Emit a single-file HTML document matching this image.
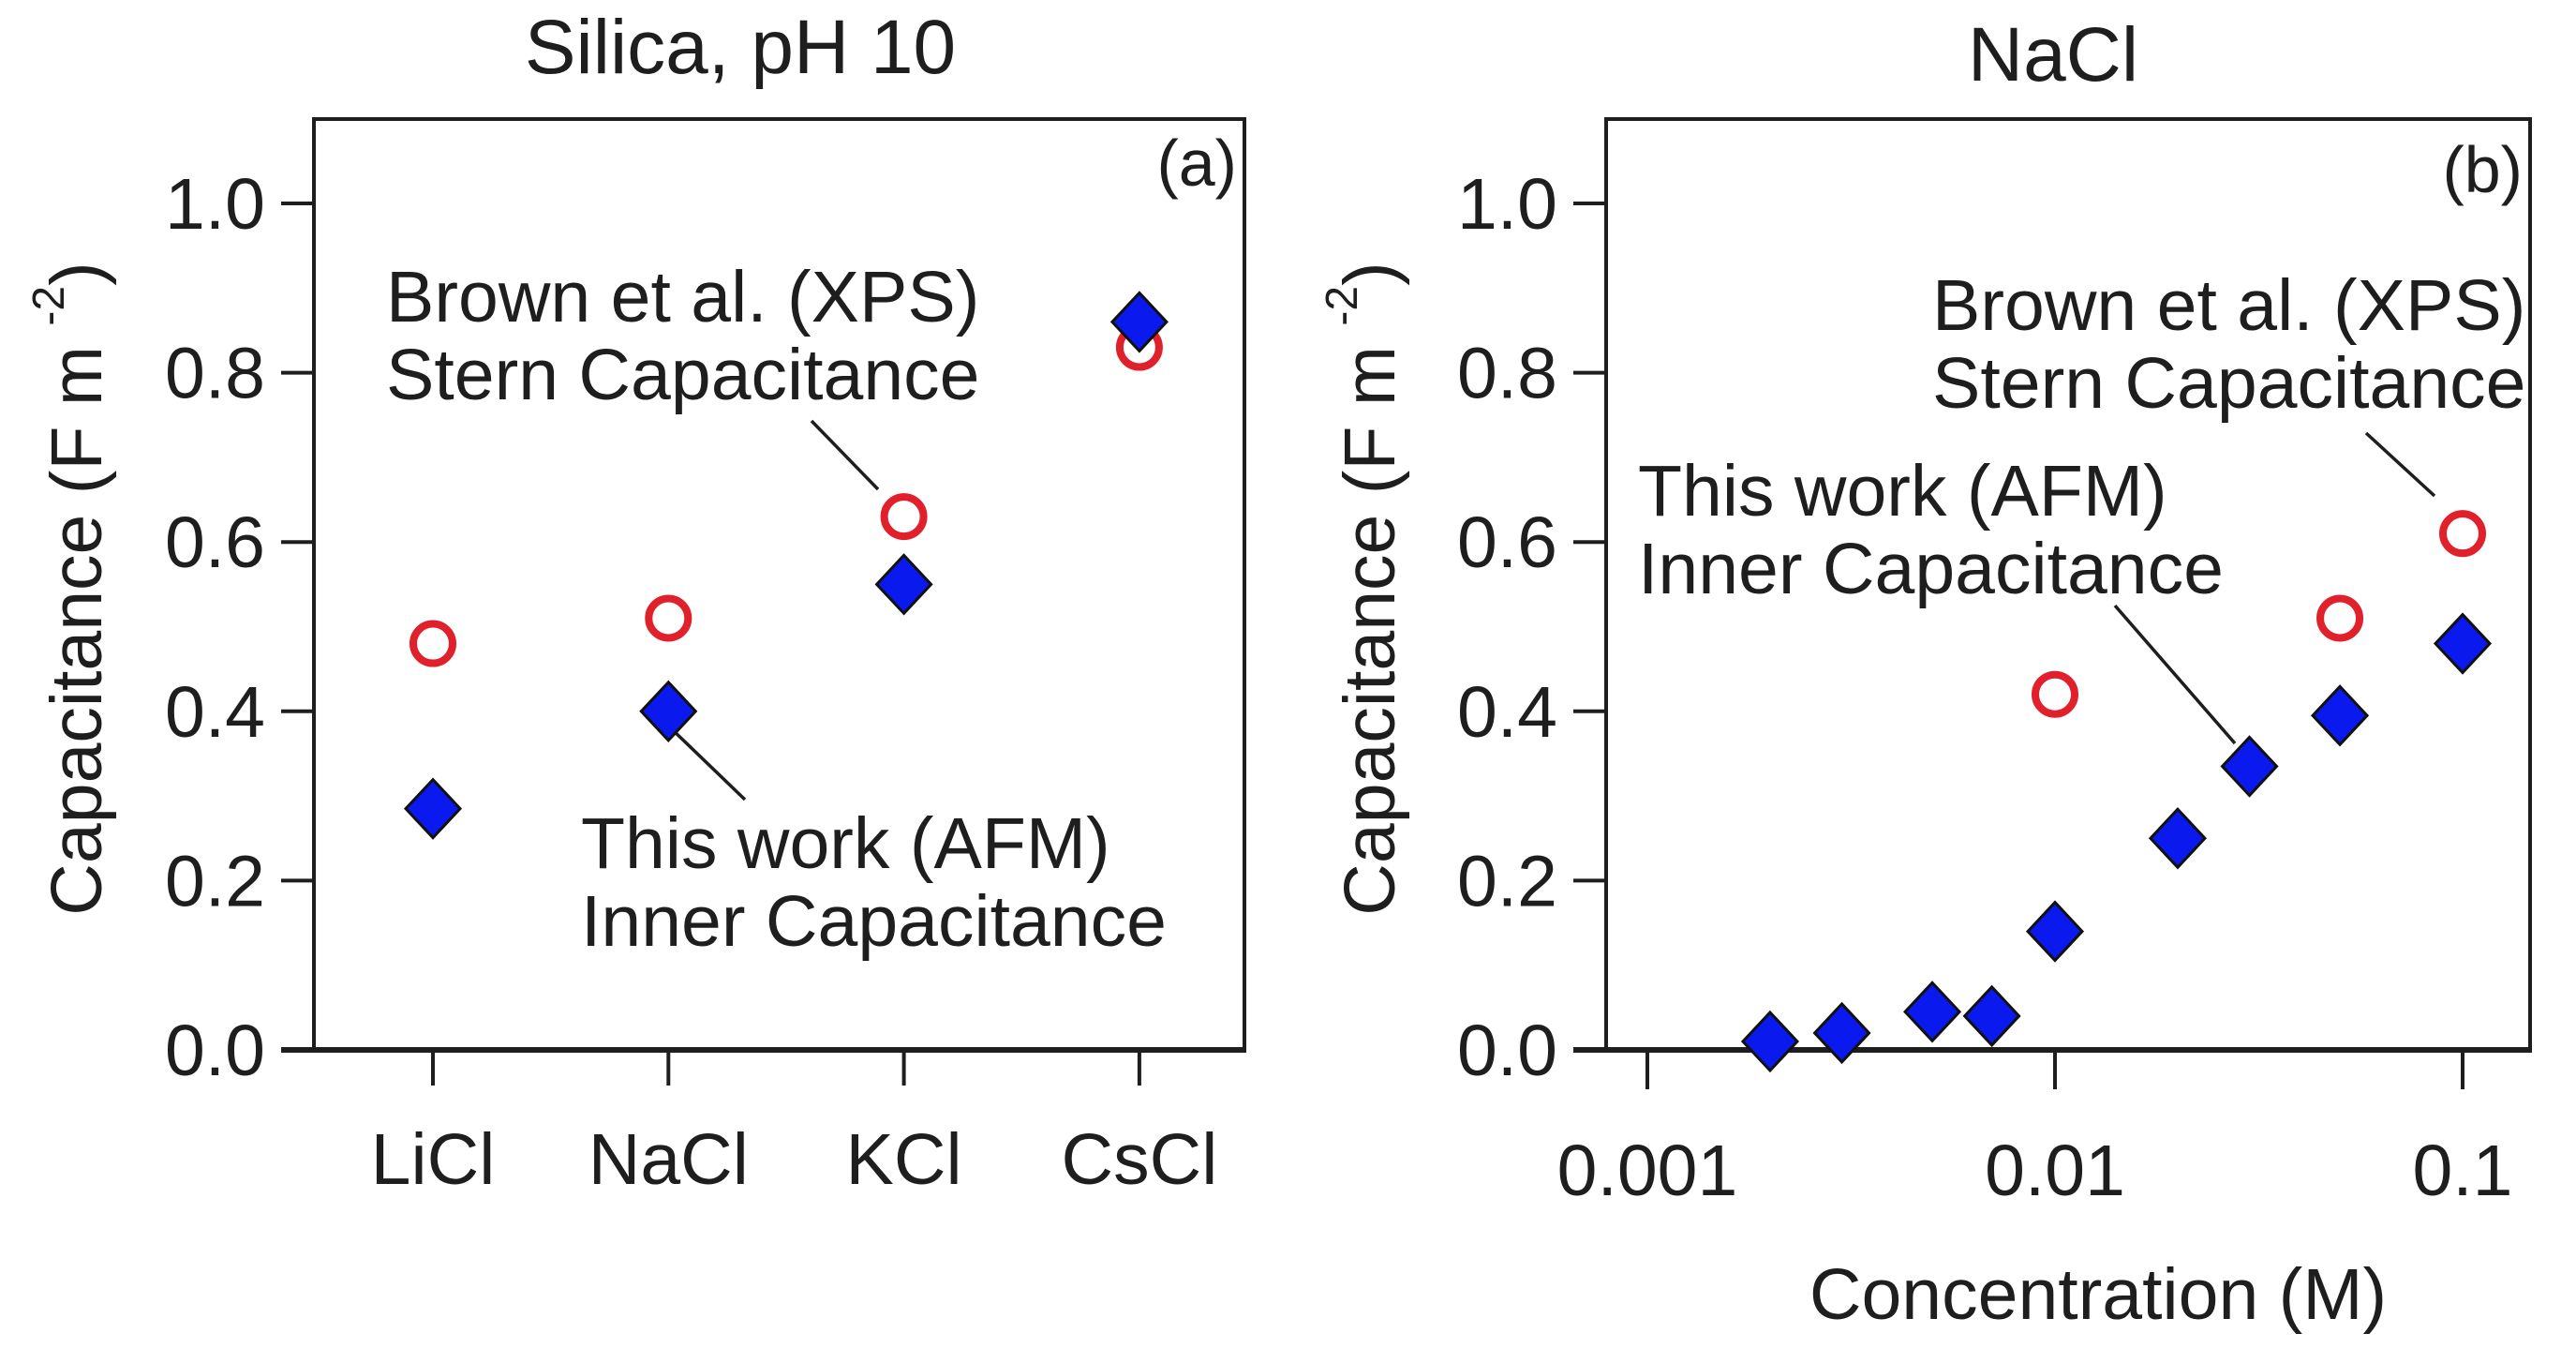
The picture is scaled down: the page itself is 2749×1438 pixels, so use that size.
<!DOCTYPE html>
<html><head><meta charset="utf-8"><style>
html,body{margin:0;padding:0;background:#fff;}
svg{display:block;font-family:"Liberation Sans",Arial,sans-serif;}
</style></head><body>
<svg id="fig" width="2749" height="1438" viewBox="0 0 2749 1438" xmlns="http://www.w3.org/2000/svg"></svg>
<script>
const catsA = ["LiCl","NaCl","KCl","CsCl"];
const afmA = [0.285,0.40,0.55,0.86];
const xpsA = [0.48,0.51,0.63,0.83];
const concB = [0.002,0.003,0.005,0.007,0.01,0.02,0.03,0.05,0.1];
const afmB = [0.01,0.02,0.045,0.04,0.14,0.25,0.335,0.395,0.48];
const xpsConcB = [0.01,0.05,0.1];
const xpsB = [0.42,0.51,0.61];
const yTicks = [0,0.2,0.4,0.6,0.8,1.0];
const yTickLabels = ["0.0","0.2","0.4","0.6","0.8","1.0"];
const xTicksB = [0.001,0.01,0.1];
const xTickLabelsB = ["0.001","0.01","0.1"];

const NS="http://www.w3.org/2000/svg";
const svg=document.getElementById('fig');
function mk(tag,attrs,parent){const e=document.createElementNS(NS,tag);for(const k in attrs)e.setAttribute(k,attrs[k]);(parent||svg).appendChild(e);return e;}
function txt(s,attrs,parent){const e=mk('text',attrs,parent);e.textContent=s;return e;}

const Y0=1120, YU=903;
function y(v){return Y0 - v*YU;}
function xA(i){return 462 + i*251.3;}
function xB(c){return 1758 + (Math.log10(c)+3)*435;}
const ink="#1e1e1e";

function diamond(cx,cy,g){return mk('path',{d:`M${cx} ${cy-31}L${cx+29} ${cy}L${cx} ${cy+31}L${cx-29} ${cy}Z`,fill:"#0a1aee",stroke:"#111","stroke-width":3},g);}
function circ(cx,cy,g){return mk('circle',{cx:cx,cy:cy,r:21,fill:"none",stroke:"#e0202a","stroke-width":8},g);}

function panel(p){
  const g=mk('g',{});
  
  
  const t=txt(p.title,{x:p.titleX,y:p.titleY,'font-size':82,'text-anchor':'middle',fill:ink},g);
  
  
  const f=mk('path',{d:`M${p.L} ${Y0}L${p.L} ${p.T}L${p.R} ${p.T}L${p.R} ${Y0}`,fill:'none',stroke:ink,'stroke-width':4},g);
  
  
  const ax=mk('line',{x1:p.L-35,y1:Y0,x2:p.R+2,y2:Y0,stroke:ink,'stroke-width':6},g);
  
  
  yTicks.forEach((v,i)=>{
    const l=mk('line',{x1:p.L-35,y1:y(v),x2:p.L,y2:y(v),stroke:ink,'stroke-width':4},g);
    
    
    const tl=txt(yTickLabels[i],{x:p.L-52,y:y(v)+27,'font-size':77,'text-anchor':'end',fill:ink},g);
    
    
  });
  const yt=txt('',{transform:`translate(${p.ytX},${628}) rotate(-90)`,'font-size':77,'text-anchor':'middle',fill:ink},g);
  
  
  const s1=mk('tspan',{},yt);s1.textContent='Capacitance (F m ';
  const s2=mk('tspan',{'font-size':48,dy:-40},yt);s2.textContent='-2';
  const s3=mk('tspan',{dy:40},yt);s3.textContent=')';
  const pl=txt(p.panelLabel,{x:p.R-8,y:p.plY,'font-size':70,'text-anchor':'end',fill:ink},g);
  
  
  p.anns.forEach(a=>{
    const t1=txt(a.l1,{x:a.x,y:a.y,'font-size':77,fill:ink},g);
    
    
    const t2=txt(a.l2,{x:a.x,y:a.y+83,'font-size':77,fill:ink},g);
    
    
    const ln=mk('line',{x1:a.lx1,y1:a.ly1,x2:a.lx2,y2:a.ly2,stroke:ink,'stroke-width':3.5},g);
    
    
  });
  return g;
}

// Panel A
const gA=panel({name:'panel-a',title:'Silica, pH 10',titleX:790,titleY:78,L:335,R:1328,T:127,ytX:108,panelLabel:'(a)',plY:198,
  anns:[{l1:'Brown et al. (XPS)',l2:'Stern Capacitance',x:412,y:343,lx1:866,ly1:449,lx2:937,ly2:522},
        {l1:'This work (AFM)',l2:'Inner Capacitance',x:620,y:926,lx1:714,ly1:775,lx2:795,ly2:853}]});
catsA.forEach((c,i)=>{
  const l=mk('line',{x1:xA(i),y1:Y0,x2:xA(i),y2:Y0+38,stroke:ink,'stroke-width':4},gA);
  
  
  const t=txt(c,{x:xA(i),y:1263,'font-size':77,'text-anchor':'middle',fill:ink},gA);
  
  
});
xpsA.forEach((v,i)=>{const m=circ(xA(i),y(v),gA);
  
  });
afmA.forEach((v,i)=>{const m=diamond(xA(i),y(v),gA);
  
  });

// Panel B
const gB=panel({name:'panel-b',title:'NaCl',titleX:2191,titleY:86,L:1714,R:2700,T:127,ytX:1488,panelLabel:'(b)',plY:205,
  anns:[{l1:'Brown et al. (XPS)',l2:'Stern Capacitance',x:2062,y:352,lx1:2525,ly1:462,lx2:2598,ly2:529},
        {l1:'This work (AFM)',l2:'Inner Capacitance',x:1748,y:550,lx1:2257,ly1:646,lx2:2385,ly2:793}]});
xTicksB.forEach((c,i)=>{
  const l=mk('line',{x1:xB(c),y1:Y0,x2:xB(c),y2:Y0+42,stroke:ink,'stroke-width':4},gB);
  
  
  const t=txt(xTickLabelsB[i],{x:xB(c),y:1275,'font-size':77,'text-anchor':'middle',fill:ink},gB);
  
  
});
const xt=txt('Concentration (M)',{x:2239,y:1407,'font-size':77,'text-anchor':'middle',fill:ink},gB);


xpsB.forEach((v,i)=>{const m=circ(xB(xpsConcB[i]),y(v),gB);
  
  });
afmB.forEach((v,i)=>{const m=diamond(xB(concB[i]),y(v),gB);
  
  });
</script>
</body></html>
